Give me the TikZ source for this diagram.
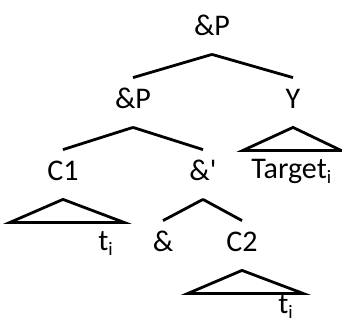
\documentclass[tikz,border=0pt]{standalone}
\usepackage{fontspec}
\setmainfont{Carlito}
\usetikzlibrary{positioning}
% lowered index letter
\newcommand{\idx}[1]{\raisebox{-5pt}{\fontsize{19}{19}\selectfont #1}}

\begin{document}
\begin{tikzpicture}[x=1pt, y=-1pt, line width=2.8pt,
  cat/.style={anchor=base, inner xsep=2pt, inner ysep=9pt,
    text height=20pt, text depth=9pt, font=\fontsize{30}{34}\selectfont},
  leaf/.style={anchor=base west, inner sep=0pt, font=\fontsize{30}{34}\selectfont}]
  \useasboundingbox (0,0) rectangle (342,322);
  % categories
  \node[cat] (root) at (212,35) {\&P};
  \node[cat] (np) at (133,108) {\&P};
  \node[cat] (y) at (293,108) {Y};
  \node[cat] (c1) at (63,180) {C1};
  \node[cat] (bar) at (203,180) {\&\textquotesingle};
  \node[cat] (amp) at (163,251) {\&};
  \node[cat] (c2) at (242,251) {C2};
  % branches
  \draw (root.south) -- (np.north);
  \draw (root.south) -- (y.north);
  \draw (np.south) -- (c1.north);
  \draw (np.south) -- (bar.north);
  \draw (bar.south) -- (amp.north);
  \draw (bar.south) -- (c2.north);
  % roofs
  \draw (y.south) -- ++(-50,23) -- ++(98,0) -- cycle;
  \draw (c1.south) -- ++(-53,23) -- ++(114,0) -- cycle;
  \draw (c2.south) -- ++(-54,23) -- ++(115,0) -- cycle;
  % material under the roofs
  \node[leaf] (target) at (250,178) {Target\idx{i}};
  \node[leaf] (t1) at (97,250) {t\idx{i}};
  \node[leaf] (t2) at (277,313) {t\idx{i}};
\end{tikzpicture}
\end{document}
